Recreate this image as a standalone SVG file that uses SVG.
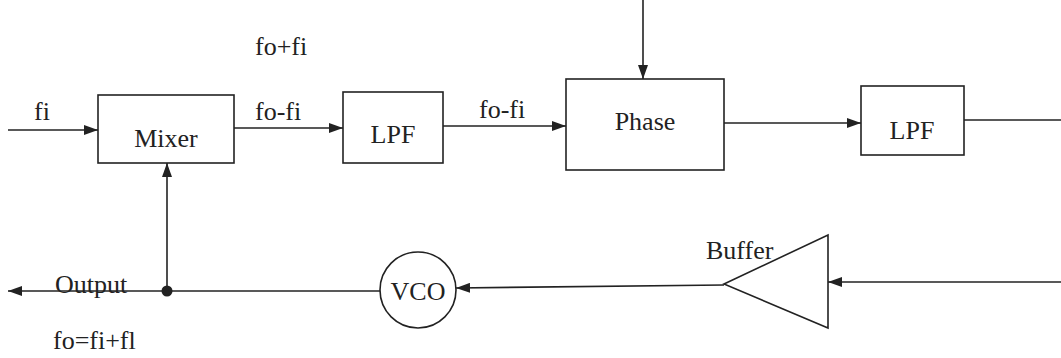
<svg xmlns="http://www.w3.org/2000/svg" width="1061" height="358" viewBox="0 0 1061 358">
<defs>
<style>
.box{fill:none;stroke:#222;stroke-width:1.6}
.ln{fill:none;stroke:#222;stroke-width:1.6}
.t{font-family:"Liberation Serif",serif;font-size:26px;fill:#222}
.c{text-anchor:middle}
</style>
<marker id="ah" viewBox="0 0 14 10" refX="14" refY="5" markerWidth="14" markerHeight="10" markerUnits="userSpaceOnUse" orient="auto">
<path d="M0,0 L14,5 L0,10 Z" fill="#222"/>
</marker>
</defs>
<rect width="1061" height="358" fill="#fff"/>
<g id="connectors">
<line class="ln" x1="8" y1="130" x2="98" y2="130" marker-end="url(#ah)"/>
<line class="ln" x1="234" y1="128" x2="343" y2="128" marker-end="url(#ah)"/>
<line class="ln" x1="443" y1="126" x2="566" y2="126" marker-end="url(#ah)"/>
<line class="ln" x1="643" y1="0" x2="643" y2="79" marker-end="url(#ah)"/>
<line class="ln" x1="724" y1="123" x2="861" y2="123" marker-end="url(#ah)"/>
<line class="ln" x1="964" y1="120" x2="1061" y2="120"/>
<line class="ln" x1="1061" y1="282" x2="828" y2="282" marker-end="url(#ah)"/>
<line class="ln" x1="724" y1="285" x2="456" y2="288" marker-end="url(#ah)"/>
<line class="ln" x1="380" y1="291" x2="8" y2="291" marker-end="url(#ah)"/>
<line class="ln" x1="167" y1="291" x2="167" y2="163" marker-end="url(#ah)"/>
<circle cx="167" cy="291" r="5.5" fill="#222"/>
</g>
<g id="mixer">
<rect class="box" x="98" y="95" width="136" height="68"/>
<text class="t c" x="166" y="147">Mixer</text>
</g>
<g id="lpf1">
<rect class="box" x="343" y="92" width="100" height="71"/>
<text class="t c" x="393" y="143">LPF</text>
</g>
<g id="phase">
<rect class="box" x="566" y="79" width="158" height="91"/>
<text class="t c" x="645" y="130">Phase</text>
</g>
<g id="lpf2">
<rect class="box" x="861" y="86" width="103" height="69"/>
<text class="t c" x="912" y="139">LPF</text>
</g>
<g id="buffer">
<path class="box" d="M724,284 L828,235 L828,328 Z"/>
<text class="t" x="706" y="259">Buffer</text>
</g>
<g id="vco">
<circle class="box" cx="418" cy="290" r="38"/>
<text class="t c" x="418" y="300">VCO</text>
</g>
<g id="labels">
<text class="t" x="34" y="120">fi</text>
<text class="t" x="255" y="120">fo-fi</text>
<text class="t" x="479" y="118">fo-fi</text>
<text class="t" x="255" y="55">fo+fi</text>
<text class="t" x="55" y="293">Output</text>
<text class="t" x="53" y="349">fo=fi+fl</text>
</g>
</svg>
